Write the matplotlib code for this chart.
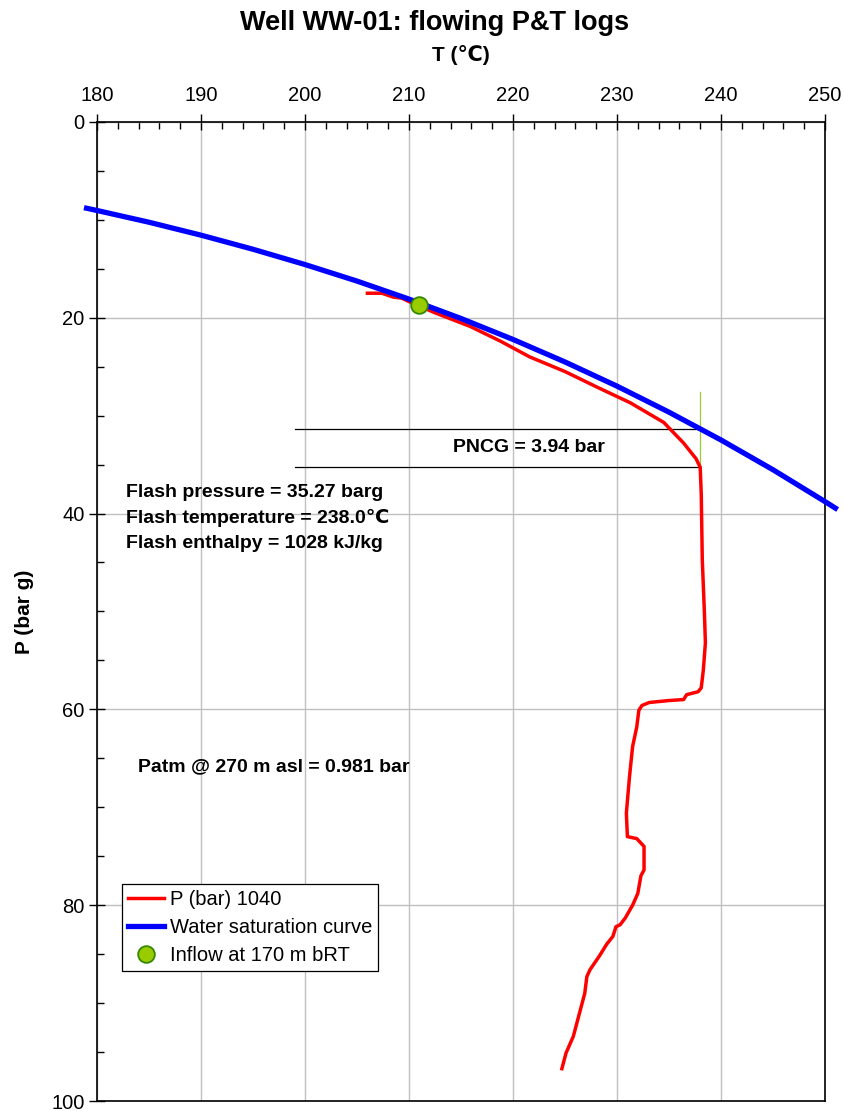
import numpy as np
import matplotlib.pyplot as plt
from matplotlib.ticker import MultipleLocator

plt.rcParams['font.family'] = ['Liberation Sans', 'DejaVu Sans']

# flowing log, P (bar) 1040
log_t = [206.0, 207.4, 208.5, 209.3, 210.1, 212.5, 215.9, 218.8, 221.6, 225.0, 228.1,
         231.3, 234.5, 236.4, 237.6, 238.0, 238.1, 238.2, 238.4, 238.5, 238.3, 238.1,
         237.8, 236.7, 236.4, 235.0, 233.1, 232.4, 232.1, 231.9, 231.5, 231.2, 230.9,
         231.0, 231.9, 232.6, 232.6, 232.3, 232.0, 231.5, 230.8, 230.3, 229.9, 229.6,
         229.0, 228.3, 227.4, 227.1, 226.9, 226.4, 225.8, 225.1, 224.7]
log_p = [17.5, 17.5, 17.9, 18.0, 18.4, 19.5, 20.9, 22.4, 24.0, 25.5, 27.1,
         28.7, 30.7, 32.8, 34.4, 35.27, 38.0, 44.7, 50.0, 53.2, 56.0, 57.8,
         58.2, 58.5, 59.0, 59.1, 59.3, 59.6, 60.1, 61.8, 63.8, 66.9, 70.6,
         73.0, 73.2, 74.0, 76.4, 77.0, 78.8, 80.0, 81.3, 82.0, 82.2, 83.2,
         84.0, 85.2, 86.6, 87.3, 89.0, 91.0, 93.4, 95.1, 96.7]

# water saturation curve (gauge)
sat_t = [179, 180, 185, 190, 195, 200, 205, 210, 215, 220, 225, 230, 235, 240, 245, 250, 251]
sat_p = [8.82, 9.05, 10.25, 11.57, 13.01, 14.57, 16.26, 18.10, 20.08, 22.22, 24.52,
         26.99, 29.65, 32.49, 35.53, 38.78, 39.45]

inflow_t = [211.0]
inflow_p = [18.7]

flash_p = 35.27
flash_t = 238.0
sat_at_flash = 31.33
pncg_x0 = 199.0

fs = 14

fig = plt.figure(figsize=(8.44, 11.11), dpi=100)
ax = fig.add_axes([0.1149, 0.009, 0.8626, 0.8813])

l_log, = ax.plot(log_t, log_p, color='#ff0000', lw=2.5, label='P (bar) 1040', zorder=3)
l_sat, = ax.plot(sat_t, sat_p, color='#0000ff', lw=3.8, label='Water saturation curve',
                 clip_on=False, zorder=4)
l_in, = ax.plot(inflow_t, inflow_p, 'o', ms=12, mfc='#99cc00', mec='#338800', mew=1.3,
                label='Inflow at 170 m bRT', zorder=5)

# PNCG construction
ax.plot([pncg_x0, flash_t], [sat_at_flash, sat_at_flash], color='black', lw=0.9, zorder=2)
ax.plot([pncg_x0, flash_t], [flash_p, flash_p], color='black', lw=0.9, zorder=2)
ax.plot([flash_t, flash_t], [27.6, flash_p], color='#99cc33', lw=0.9, zorder=2)
ax.text(221.5, (flash_p + sat_at_flash) / 2, 'PNCG = 3.94 bar', ha='center', va='center',
        fontsize=fs, fontweight='bold')

ax.text(182.8, 37.9, 'Flash pressure = 35.27 barg', fontsize=fs, fontweight='bold', va='center')
ax.text(182.8, 40.5, 'Flash temperature = 238.0\u2103', fontsize=fs, fontweight='bold', va='center')
ax.text(182.8, 43.1, 'Flash enthalpy = 1028 kJ/kg', fontsize=fs, fontweight='bold', va='center')
ax.text(183.9, 65.9, 'Patm @ 270 m asl = 0.981 bar', fontsize=fs, fontweight='bold', va='center')

ax.set_xlim(180, 250)
ax.set_ylim(100, 0)
ax.xaxis.tick_top()
ax.xaxis.set_label_position('top')
ax.xaxis.set_major_locator(MultipleLocator(10))
ax.xaxis.set_minor_locator(MultipleLocator(2))
ax.yaxis.set_major_locator(MultipleLocator(20))
ax.yaxis.set_minor_locator(MultipleLocator(5))
ax.tick_params(which='major', direction='inout', length=12, width=1, labelsize=14.5, pad=6)
ax.tick_params(axis='y', which='major', pad=3)
ax.tick_params(which='minor', direction='in', length=5, width=1)
ax.tick_params(axis='x', which='both', top=True, bottom=False)
ax.tick_params(axis='y', which='both', left=True, right=False)
ax.grid(True, which='major', color='#c0c0c0', lw=1)
ax.set_axisbelow(True)
for s in ax.spines.values():
    s.set_linewidth(1.2)

ax.set_xlabel('T (\u2103)', fontsize=15, fontweight='bold', labelpad=18)
ax.set_ylabel('P (bar g)', fontsize=15, fontweight='bold', labelpad=12)
fig.text(0.515, 0.979, 'Well WW-01: flowing P&T logs', ha='center', va='center',
         fontsize=19.5, fontweight='bold')

leg = ax.legend(handles=[l_log, l_sat, l_in], loc='lower left',
                bbox_to_anchor=(0.034, 0.133), borderaxespad=0,
                fontsize=14.5, fancybox=False, framealpha=1, edgecolor='black',
                handlelength=1.8, handletextpad=0.3, borderpad=0.3, labelspacing=0.45)
leg.get_frame().set_linewidth(0.9)

fig.savefig('out.png', dpi=100)
